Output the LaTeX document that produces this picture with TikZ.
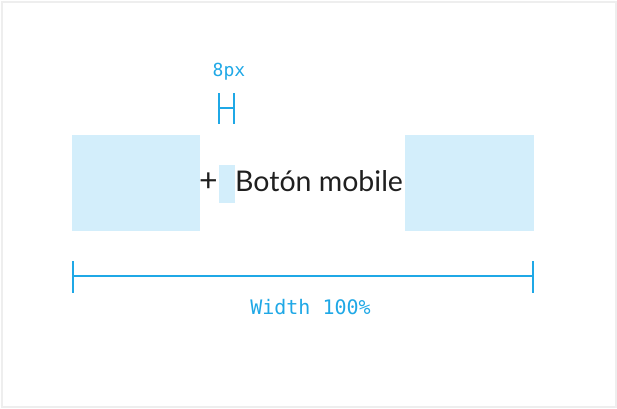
\documentclass[tikz,border=0pt]{standalone}
\usepackage{fontspec}
\setmainfont{Lato}
\newfontfamily\monofont{DejaVu Sans Mono}
\definecolor{dimblue}{HTML}{1FA8E6}
\definecolor{boxfill}{HTML}{D3EEFB}
\definecolor{framegray}{HTML}{EEEEEE}
\begin{document}
\begin{tikzpicture}[x=1pt,y=-1pt,
  blk/.style={fill=boxfill,draw=none},
  dim/.style={draw=dimblue,line width=2pt},
  dimlabel/.style={text=dimblue,inner sep=0pt,font=\monofont\fontsize{18}{20}\selectfont},
  label/.style={inner sep=0pt,text=black!88,font=\fontsize{28.5}{32}\selectfont}]
\useasboundingbox (0,0) rectangle (617,408);
\draw[framegray,line width=2pt] (1.5,1.5) rectangle (615.5,406.5);
% blocks
\fill[blk] (72,135) rectangle (200,231);
\fill[blk] (405,135) rectangle (534,231);
\fill[blk] (219,165) rectangle (235,203);
\node[label,anchor=center,font=\fontsize{32}{34}\selectfont] (plus) at (208.5,182) {+};
\node[label,anchor=base west] (btn) at (235,191.5) {Botón mobile};
% 8px marker
\coordinate (ha) at (219,93);
\coordinate (hb) at (219,124);
\coordinate (hc) at (234,93);
\coordinate (hd) at (234,124);
\coordinate (hm1) at (219,108);
\coordinate (hm2) at (234,108);
\draw[dim] (ha) -- (hb) (hc) -- (hd) (hm1) -- (hm2);
\node[dimlabel,anchor=base] (gap) at (229,76) {8px};
% width marker
\coordinate (wa) at (73,261);
\coordinate (wb) at (73,293);
\coordinate (wc) at (533,261);
\coordinate (wd) at (533,293);
\coordinate (wm1) at (73,276);
\coordinate (wm2) at (533,276);
\draw[dim] (wa) -- (wb) (wc) -- (wd) (wm1) -- (wm2);
\node[dimlabel,anchor=base,font=\monofont\fontsize{20}{22}\selectfont] (wlab) at (310.5,314.5) {Width 100\%};
\end{tikzpicture}
\end{document}
